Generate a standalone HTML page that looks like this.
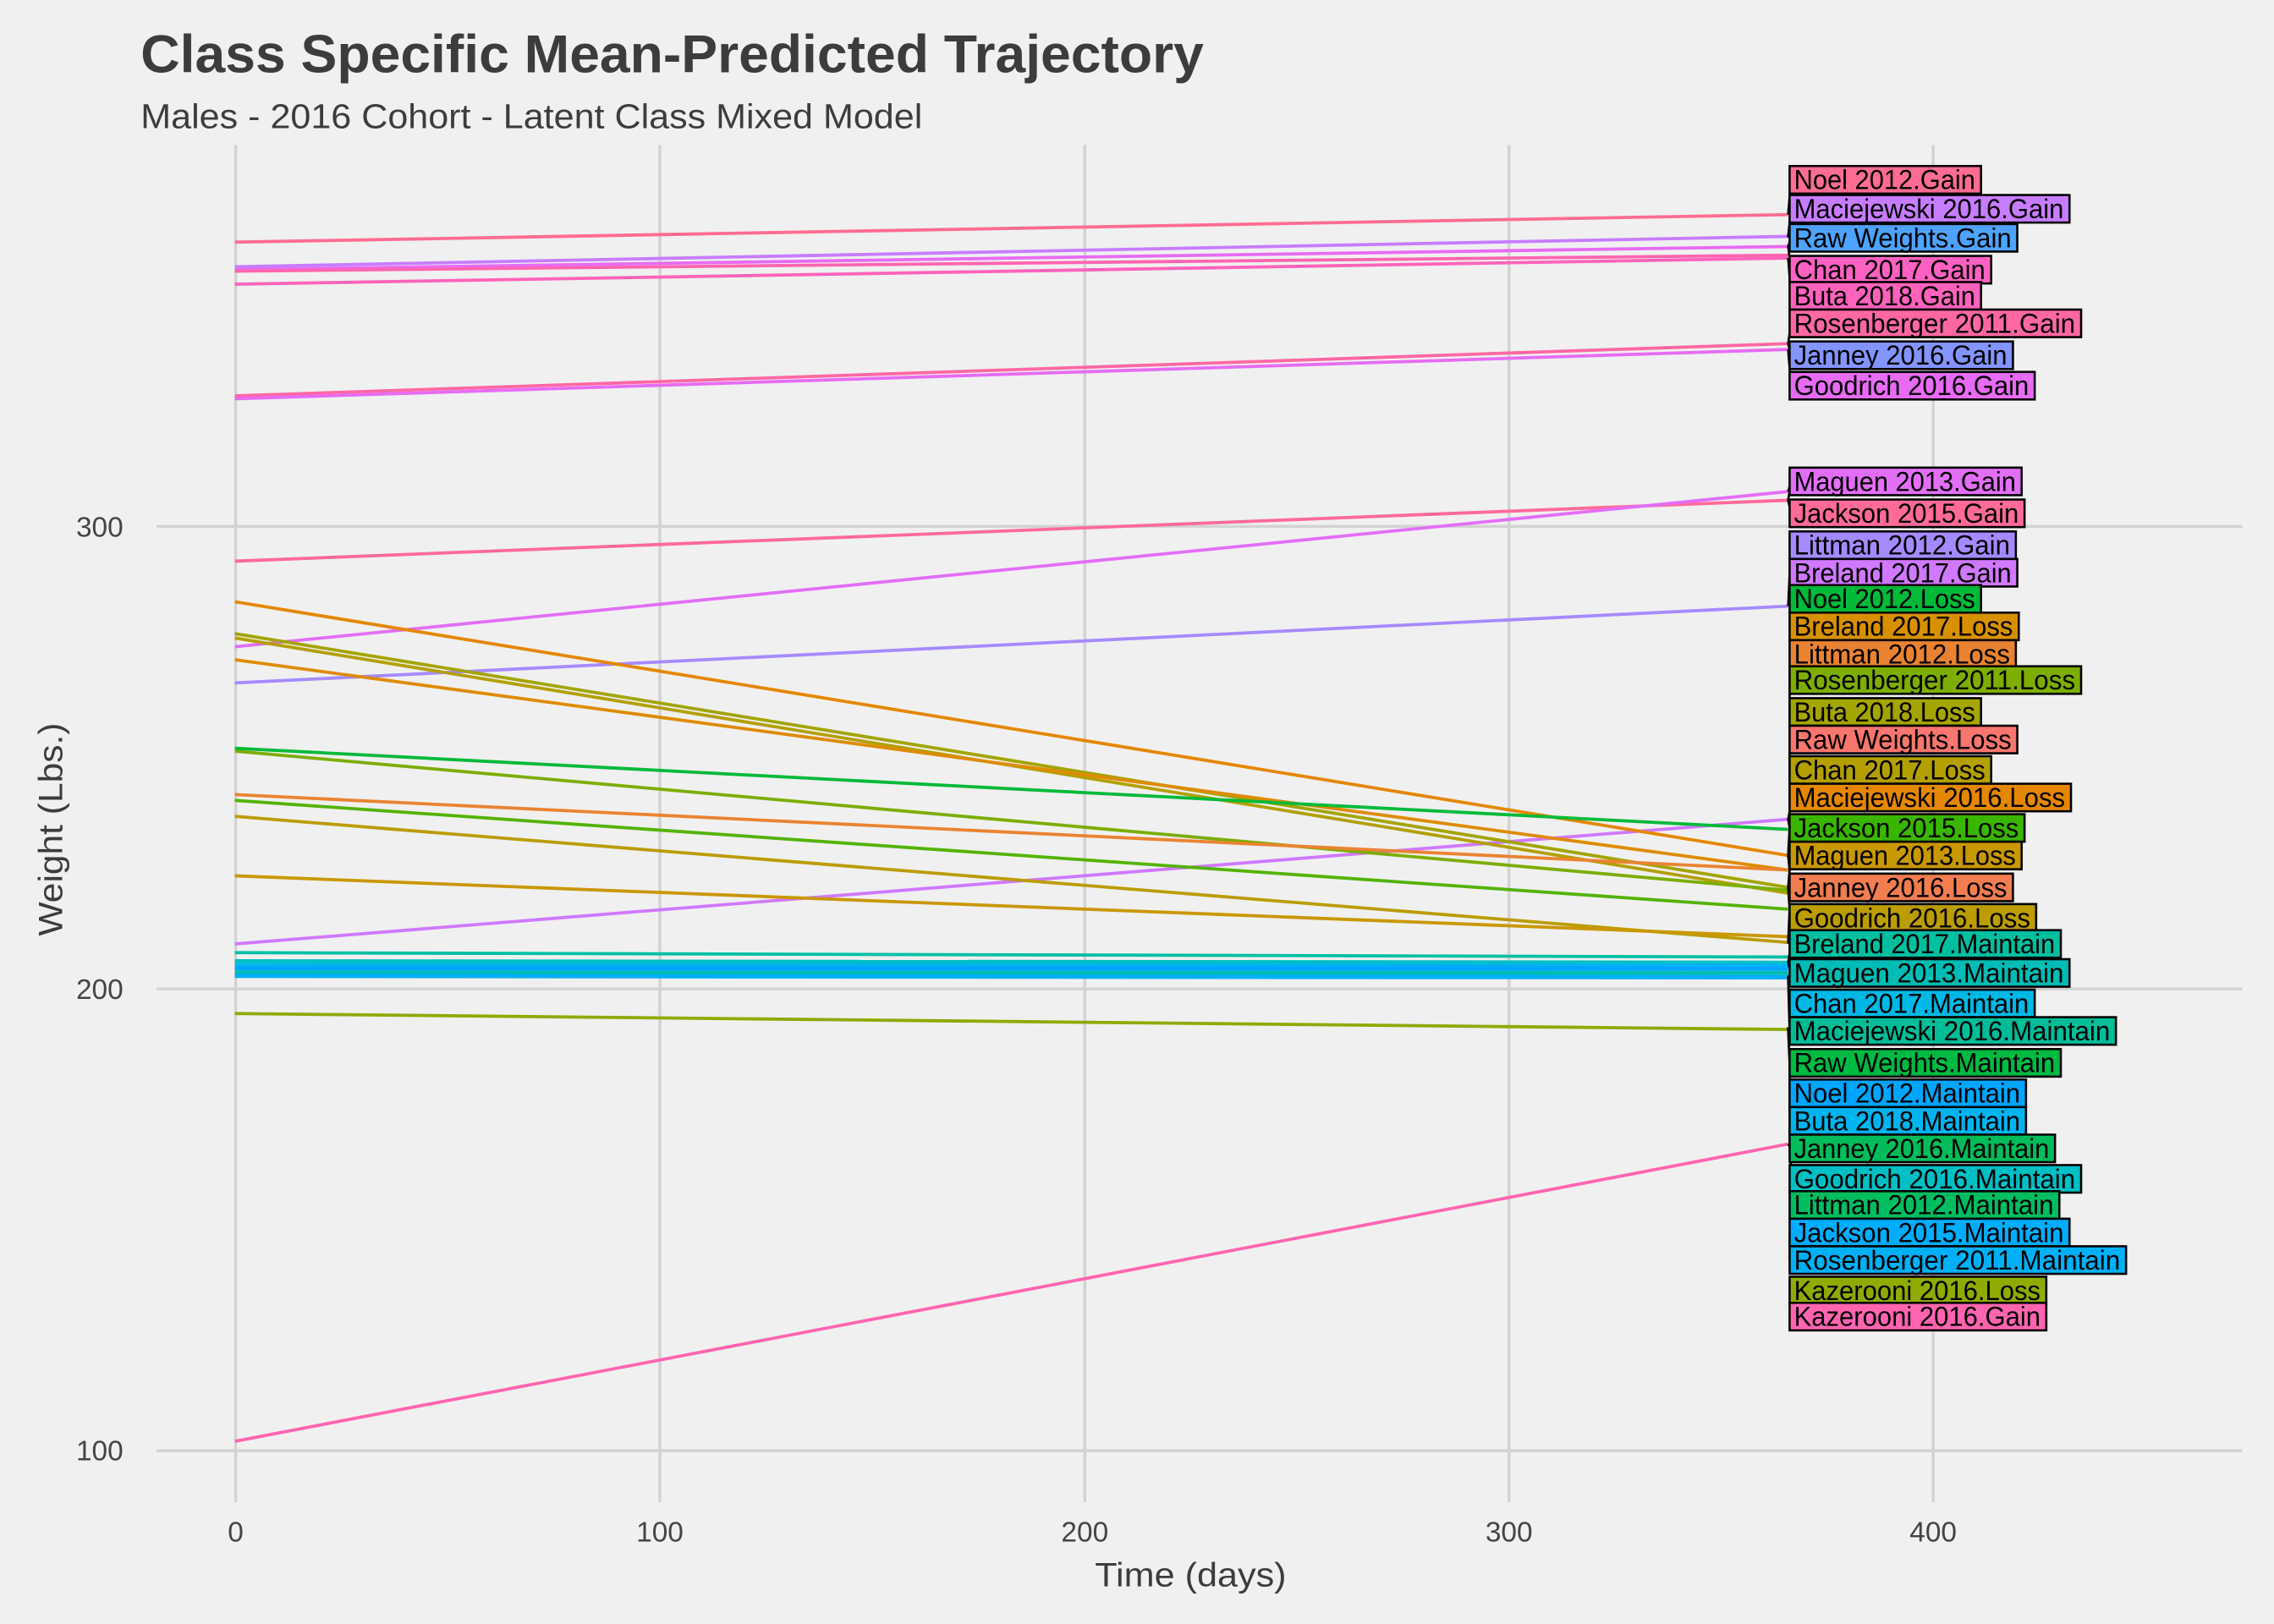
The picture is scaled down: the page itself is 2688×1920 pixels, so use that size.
<!DOCTYPE html>
<html><head><meta charset="utf-8"><style>
html,body{margin:0;padding:0;background:#f0f0f0;}
svg{display:block;}
</style></head><body>
<svg width="2688" height="1920" viewBox="0 0 1568 1120" xmlns="http://www.w3.org/2000/svg" font-family="Liberation Sans, sans-serif">
<rect width="1568" height="1120" fill="#f0f0f0"/>
<g stroke="#d2d2d2" stroke-width="2">
<line x1="108" y1="363" x2="1546" y2="363"/>
<line x1="108" y1="682" x2="1546" y2="682"/>
<line x1="108" y1="1000.5" x2="1546" y2="1000.5"/>
<line x1="162.5" y1="100" x2="162.5" y2="1036"/>
<line x1="455" y1="100" x2="455" y2="1036"/>
<line x1="748" y1="100" x2="748" y2="1036"/>
<line x1="1040.5" y1="100" x2="1040.5" y2="1036"/>
<line x1="1333" y1="100" x2="1333" y2="1036"/>
</g>
<text x="97" y="50" font-size="37" font-weight="bold" fill="#3c3c3c" textLength="733" lengthAdjust="spacingAndGlyphs">Class Specific Mean-Predicted Trajectory</text>
<text x="97" y="88.5" font-size="24" fill="#3c3c3c" textLength="539" lengthAdjust="spacingAndGlyphs">Males - 2016 Cohort - Latent Class Mixed Model</text>
<g font-size="19.5" fill="#444" text-anchor="end">
<text x="85" y="370">300</text>
<text x="85" y="689">200</text>
<text x="85" y="1007">100</text>
</g>
<g font-size="19.5" fill="#444" text-anchor="middle">
<text x="162.5" y="1063">0</text>
<text x="455" y="1063">100</text>
<text x="748" y="1063">200</text>
<text x="1040.5" y="1063">300</text>
<text x="1333" y="1063">400</text>
</g>
<text x="821" y="1094" font-size="23" fill="#3c3c3c" text-anchor="middle" textLength="132" lengthAdjust="spacingAndGlyphs">Time (days)</text>
<text transform="translate(43,572) rotate(-90)" font-size="23" fill="#3c3c3c" text-anchor="middle" textLength="147" lengthAdjust="spacingAndGlyphs">Weight (Lbs.)</text>
<g stroke-width="2.2" fill="none">
<line x1="162" y1="167" x2="1233" y2="148" stroke="#FF6C91"/>
<line x1="162" y1="184" x2="1233" y2="163" stroke="#C77CFF"/>
<line x1="162" y1="186" x2="1233" y2="170" stroke="#E76BF3"/>
<line x1="162" y1="187" x2="1233" y2="176" stroke="#FF64B0"/>
<line x1="162" y1="196" x2="1233" y2="178" stroke="#FF62BC"/>
<line x1="162" y1="273" x2="1233" y2="237" stroke="#FF67A4"/>
<line x1="162" y1="275" x2="1233" y2="241" stroke="#E76BF3"/>
<line x1="162" y1="387" x2="1233" y2="345" stroke="#FF6A98"/>
<line x1="162" y1="446" x2="1233" y2="339" stroke="#E36EF6"/>
<line x1="162" y1="471" x2="1233" y2="418" stroke="#A58AFF"/>
<line x1="162" y1="651" x2="1233" y2="565" stroke="#D078FF"/>
<line x1="162" y1="994" x2="1233" y2="789" stroke="#FF64B0"/>
<line x1="162" y1="415" x2="1233" y2="590" stroke="#E58700"/>
<line x1="162" y1="437" x2="1233" y2="612" stroke="#A3A500"/>
<line x1="162" y1="440" x2="1233" y2="616" stroke="#B3A000"/>
<line x1="162" y1="455" x2="1233" y2="600" stroke="#DE8C00"/>
<line x1="162" y1="518" x2="1233" y2="614" stroke="#7CAE00"/>
<line x1="162" y1="516" x2="1233" y2="572" stroke="#00BA38"/>
<line x1="162" y1="548" x2="1233" y2="600" stroke="#EA8331"/>
<line x1="162" y1="552" x2="1233" y2="627" stroke="#53B400"/>
<line x1="162" y1="563" x2="1233" y2="650" stroke="#BB9D00"/>
<line x1="162" y1="604" x2="1233" y2="646" stroke="#C99800"/>
<line x1="162" y1="657" x2="1233" y2="660" stroke="#00C0A5"/>
<line x1="162" y1="699" x2="1233" y2="710" stroke="#8FAA00"/>
</g>
<g stroke-width="3" fill="none">
<line x1="162" y1="663" x2="1233" y2="664" stroke="#00BFC4"/>
<line x1="162" y1="666" x2="1233" y2="666" stroke="#00B4EF"/>
<line x1="162" y1="668" x2="1233" y2="668" stroke="#00A5FF"/>
<line x1="162" y1="671" x2="1233" y2="671" stroke="#00BCB4"/>
<line x1="162" y1="673" x2="1233" y2="674" stroke="#00B0F6"/>
</g>
<g stroke="#000" stroke-width="1.6" fill="none">
<polyline points="1233,148 1235,124 1235,144 1233,163 1235,164 1233,170 1235,186 1233,178 1235,204"/>
<polyline points="1235,204 1235,223 1233,237 1235,245 1233,241 1235,266"/>
<polyline points="1233,339 1235,332 1233,345 1235,354"/>
<polyline points="1233,418 1235,376 1235,395"/>
<polyline points="1235,413 1234,470 1234,560 1233,565 1234,571 1233,590 1234,600 1233,612 1234,627 1233,650 1235,651 1233,664 1235,671 1233,674 1234,711 1233,710 1234,733 1234,790 1233,789 1235,792 1234,869"/>
</g>
<g font-size="19" fill="#000" stroke-width="1.5">
<g><rect x="1234" y="114.5" width="132" height="19" fill="#FF6C91" stroke="#000"/><text x="1237" y="130.5" stroke="none" textLength="125" lengthAdjust="spacingAndGlyphs">Noel 2012.Gain</text></g>
<g><rect x="1234" y="134.5" width="193" height="19" fill="#C77CFF" stroke="#000"/><text x="1237" y="150.5" stroke="none" textLength="186" lengthAdjust="spacingAndGlyphs">Maciejewski 2016.Gain</text></g>
<g><rect x="1234" y="154.5" width="157" height="19" fill="#4DA3FF" stroke="#000"/><text x="1237" y="170.5" stroke="none" textLength="150" lengthAdjust="spacingAndGlyphs">Raw Weights.Gain</text></g>
<g><rect x="1234" y="176.5" width="139" height="19" fill="#FF61C3" stroke="#000"/><text x="1237" y="192.5" stroke="none" textLength="132" lengthAdjust="spacingAndGlyphs">Chan 2017.Gain</text></g>
<g><rect x="1234" y="194.5" width="132" height="19" fill="#FF62BC" stroke="#000"/><text x="1237" y="210.5" stroke="none" textLength="125" lengthAdjust="spacingAndGlyphs">Buta 2018.Gain</text></g>
<g><rect x="1234" y="213.5" width="201" height="19" fill="#FF67A4" stroke="#000"/><text x="1237" y="229.5" stroke="none" textLength="194" lengthAdjust="spacingAndGlyphs">Rosenberger 2011.Gain</text></g>
<g><rect x="1234" y="235.5" width="154" height="19" fill="#8494FF" stroke="#000"/><text x="1237" y="251.5" stroke="none" textLength="147" lengthAdjust="spacingAndGlyphs">Janney 2016.Gain</text></g>
<g><rect x="1234" y="256.5" width="169" height="19" fill="#E76BF3" stroke="#000"/><text x="1237" y="272.5" stroke="none" textLength="162" lengthAdjust="spacingAndGlyphs">Goodrich 2016.Gain</text></g>
<g><rect x="1234" y="322.5" width="160" height="19" fill="#E36EF6" stroke="#000"/><text x="1237" y="338.5" stroke="none" textLength="153" lengthAdjust="spacingAndGlyphs">Maguen 2013.Gain</text></g>
<g><rect x="1234" y="344.5" width="162" height="19" fill="#FF6A98" stroke="#000"/><text x="1237" y="360.5" stroke="none" textLength="155" lengthAdjust="spacingAndGlyphs">Jackson 2015.Gain</text></g>
<g><rect x="1234" y="366.5" width="156" height="19" fill="#A58AFF" stroke="#000"/><text x="1237" y="382.5" stroke="none" textLength="149" lengthAdjust="spacingAndGlyphs">Littman 2012.Gain</text></g>
<g><rect x="1234" y="385.5" width="157" height="19" fill="#D078FF" stroke="#000"/><text x="1237" y="401.5" stroke="none" textLength="150" lengthAdjust="spacingAndGlyphs">Breland 2017.Gain</text></g>
<g><rect x="1234" y="403.5" width="132" height="19" fill="#00BA38" stroke="#000"/><text x="1237" y="419.5" stroke="none" textLength="125" lengthAdjust="spacingAndGlyphs">Noel 2012.Loss</text></g>
<g><rect x="1234" y="422.5" width="158" height="19" fill="#D89000" stroke="#000"/><text x="1237" y="438.5" stroke="none" textLength="151" lengthAdjust="spacingAndGlyphs">Breland 2017.Loss</text></g>
<g><rect x="1234" y="441.5" width="156" height="19" fill="#EA8331" stroke="#000"/><text x="1237" y="457.5" stroke="none" textLength="149" lengthAdjust="spacingAndGlyphs">Littman 2012.Loss</text></g>
<g><rect x="1234" y="459.5" width="201" height="19" fill="#7CAE00" stroke="#000"/><text x="1237" y="475.5" stroke="none" textLength="194" lengthAdjust="spacingAndGlyphs">Rosenberger 2011.Loss</text></g>
<g><rect x="1234" y="481.5" width="132" height="19" fill="#A3A500" stroke="#000"/><text x="1237" y="497.5" stroke="none" textLength="125" lengthAdjust="spacingAndGlyphs">Buta 2018.Loss</text></g>
<g><rect x="1234" y="500.5" width="157" height="19" fill="#F8766D" stroke="#000"/><text x="1237" y="516.5" stroke="none" textLength="150" lengthAdjust="spacingAndGlyphs">Raw Weights.Loss</text></g>
<g><rect x="1234" y="521.5" width="139" height="19" fill="#B3A000" stroke="#000"/><text x="1237" y="537.5" stroke="none" textLength="132" lengthAdjust="spacingAndGlyphs">Chan 2017.Loss</text></g>
<g><rect x="1234" y="540.5" width="194" height="19" fill="#E58700" stroke="#000"/><text x="1237" y="556.5" stroke="none" textLength="187" lengthAdjust="spacingAndGlyphs">Maciejewski 2016.Loss</text></g>
<g><rect x="1234" y="561.5" width="162" height="19" fill="#39B600" stroke="#000"/><text x="1237" y="577.5" stroke="none" textLength="155" lengthAdjust="spacingAndGlyphs">Jackson 2015.Loss</text></g>
<g><rect x="1234" y="580.5" width="160" height="19" fill="#C99800" stroke="#000"/><text x="1237" y="596.5" stroke="none" textLength="153" lengthAdjust="spacingAndGlyphs">Maguen 2013.Loss</text></g>
<g><rect x="1234" y="602.5" width="154" height="19" fill="#F17D50" stroke="#000"/><text x="1237" y="618.5" stroke="none" textLength="147" lengthAdjust="spacingAndGlyphs">Janney 2016.Loss</text></g>
<g><rect x="1234" y="623.5" width="170" height="19" fill="#BB9D00" stroke="#000"/><text x="1237" y="639.5" stroke="none" textLength="163" lengthAdjust="spacingAndGlyphs">Goodrich 2016.Loss</text></g>
<g><rect x="1234" y="641.5" width="187" height="19" fill="#00BFA0" stroke="#000"/><text x="1237" y="657.5" stroke="none" textLength="180" lengthAdjust="spacingAndGlyphs">Breland 2017.Maintain</text></g>
<g><rect x="1234" y="661.5" width="193" height="19" fill="#00BCB4" stroke="#000"/><text x="1237" y="677.5" stroke="none" textLength="186" lengthAdjust="spacingAndGlyphs">Maguen 2013.Maintain</text></g>
<g><rect x="1234" y="682.5" width="169" height="19" fill="#00B8E5" stroke="#000"/><text x="1237" y="698.5" stroke="none" textLength="162" lengthAdjust="spacingAndGlyphs">Chan 2017.Maintain</text></g>
<g><rect x="1234" y="701.5" width="225" height="19" fill="#00BD98" stroke="#000"/><text x="1237" y="717.5" stroke="none" textLength="218" lengthAdjust="spacingAndGlyphs">Maciejewski 2016.Maintain</text></g>
<g><rect x="1234" y="723.5" width="187" height="19" fill="#00BA42" stroke="#000"/><text x="1237" y="739.5" stroke="none" textLength="180" lengthAdjust="spacingAndGlyphs">Raw Weights.Maintain</text></g>
<g><rect x="1234" y="744.5" width="163" height="19" fill="#00A5FF" stroke="#000"/><text x="1237" y="760.5" stroke="none" textLength="156" lengthAdjust="spacingAndGlyphs">Noel 2012.Maintain</text></g>
<g><rect x="1234" y="763.5" width="163" height="19" fill="#00B4EF" stroke="#000"/><text x="1237" y="779.5" stroke="none" textLength="156" lengthAdjust="spacingAndGlyphs">Buta 2018.Maintain</text></g>
<g><rect x="1234" y="782.5" width="183" height="19" fill="#00BC59" stroke="#000"/><text x="1237" y="798.5" stroke="none" textLength="176" lengthAdjust="spacingAndGlyphs">Janney 2016.Maintain</text></g>
<g><rect x="1234" y="803.5" width="201" height="19" fill="#00BFC4" stroke="#000"/><text x="1237" y="819.5" stroke="none" textLength="194" lengthAdjust="spacingAndGlyphs">Goodrich 2016.Maintain</text></g>
<g><rect x="1234" y="821.5" width="186" height="19" fill="#00BD5F" stroke="#000"/><text x="1237" y="837.5" stroke="none" textLength="179" lengthAdjust="spacingAndGlyphs">Littman 2012.Maintain</text></g>
<g><rect x="1234" y="840.5" width="193" height="19" fill="#00ACFC" stroke="#000"/><text x="1237" y="856.5" stroke="none" textLength="186" lengthAdjust="spacingAndGlyphs">Jackson 2015.Maintain</text></g>
<g><rect x="1234" y="859.5" width="232" height="19" fill="#00B0F6" stroke="#000"/><text x="1237" y="875.5" stroke="none" textLength="225" lengthAdjust="spacingAndGlyphs">Rosenberger 2011.Maintain</text></g>
<g><rect x="1234" y="880.5" width="177" height="19" fill="#8FAA00" stroke="#000"/><text x="1237" y="896.5" stroke="none" textLength="170" lengthAdjust="spacingAndGlyphs">Kazerooni 2016.Loss</text></g>
<g><rect x="1234" y="898.5" width="177" height="19" fill="#FF64B0" stroke="#000"/><text x="1237" y="914.5" stroke="none" textLength="170" lengthAdjust="spacingAndGlyphs">Kazerooni 2016.Gain</text></g>
</g>
</svg>
</body></html>
